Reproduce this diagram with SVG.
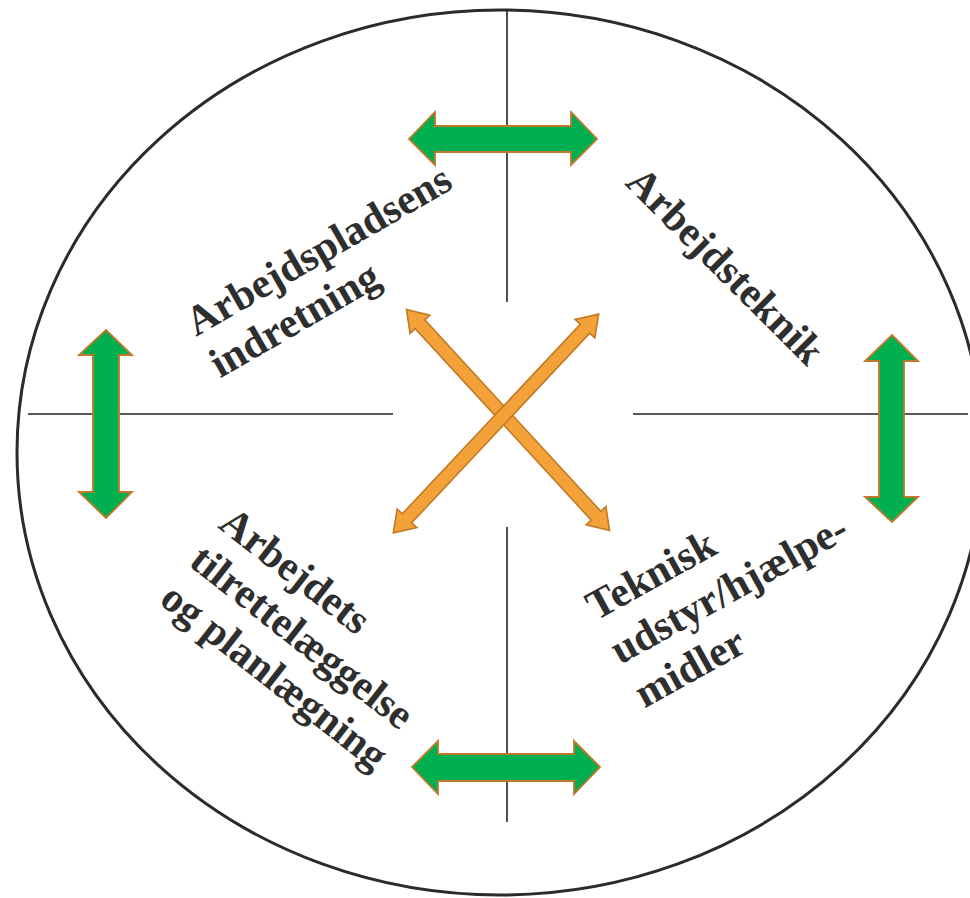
<svg xmlns="http://www.w3.org/2000/svg" width="970" height="898" viewBox="0 0 970 898">
<style>
.frame{fill:none;stroke:#2b2b2b;stroke-width:3}
.axis{stroke:#222;stroke-width:1.6}
.green{fill:#00B050;stroke:#C0782A;stroke-width:1.8;stroke-linejoin:miter}
.orange{fill:#F4A13A;stroke:#C27A24;stroke-width:1.6;stroke-linejoin:miter}
.lbl{font-family:"Liberation Serif","Times New Roman",serif;font-weight:bold;font-size:42px;fill:#2e2e2e}
</style>
<defs>
<polygon id="xarrow" class="orange" points="-150,0 -130,-13.5 -130,-6.5 130,-6.5 130,-13.5 150,0 130,13.5 130,6.5 -130,6.5 -130,13.5"/>
</defs>
<rect width="970" height="898" fill="#fff"/>
<ellipse class="frame" cx="500" cy="452.5" rx="483" ry="442.5"/>
<g id="axes">
<line class="axis" x1="507" y1="10" x2="507" y2="302"/>
<line class="axis" x1="507" y1="527" x2="507" y2="822"/>
<line class="axis" x1="28" y1="414" x2="393" y2="414"/>
<line class="axis" x1="633" y1="414" x2="968" y2="414"/>
</g>
<g id="connectors">
<polygon class="green" points="409,139 435,112 435,126 571,126 571,112 597,139 571,165 571,152 435,152 435,165"/>
<polygon class="green" points="412,767 438,741 438,754 574,754 574,741 600,767 574,794 574,781 438,781 438,794"/>
<polygon class="green" points="106,330 132,355 119,355 119,492 132,492 106,518 79,492 93,492 93,355 79,355"/>
<polygon class="green" points="892,335 918,361 904,361 904,497 918,497 892,522 865,497 879,497 879,361 865,361"/>
<use href="#xarrow" transform="translate(508,420) rotate(47.4)"/>
<use href="#xarrow" transform="translate(496,423.5) rotate(133.2)"/>
</g>
<g id="node-arbejdspladsens">
<text class="lbl" transform="translate(196,337) rotate(-30)"><tspan x="0" y="0">Arbejdspladsens</tspan><tspan x="0" y="48">indretning</tspan></text>
</g>
<g id="node-arbejdsteknik">
<text class="lbl" transform="translate(624,184) rotate(45)"><tspan x="0" y="0">Arbejdsteknik</tspan></text>
</g>
<g id="node-arbejdets">
<text class="lbl" transform="translate(217,527) rotate(38)"><tspan x="0" y="0">Arbejdets</tspan><tspan x="0" y="48">tilrettelæggelse</tspan><tspan x="0" y="96">og planlægning</tspan></text>
</g>
<g id="node-teknisk">
<text class="lbl" transform="translate(596,621) rotate(-29)"><tspan x="0" y="0">Teknisk</tspan><tspan x="0" y="50">udstyr/hjælpe-</tspan><tspan x="0" y="100">midler</tspan></text>
</g>
</svg>
